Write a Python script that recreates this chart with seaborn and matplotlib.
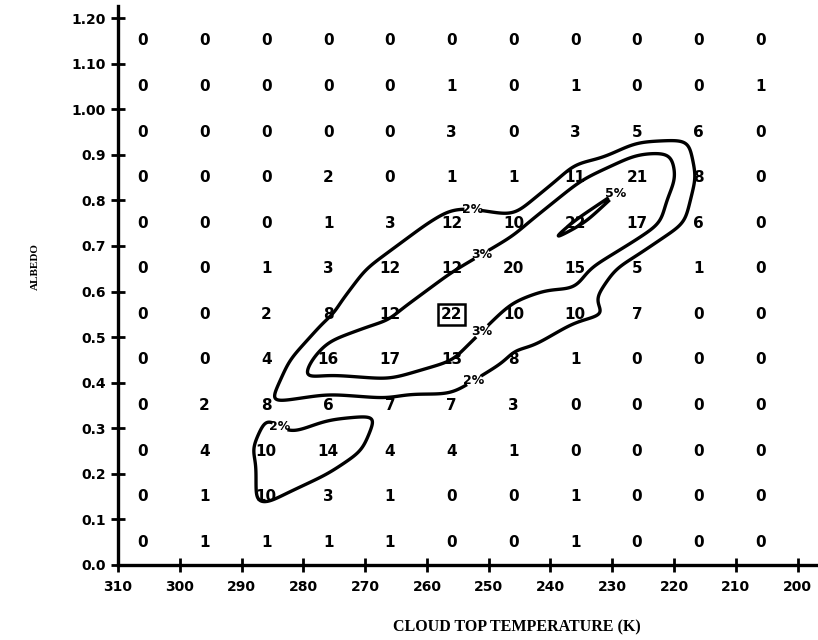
"""
Albedo vs cloud top temperature frequency table with percent contours.
"""

import matplotlib

matplotlib.use("Agg")
import matplotlib.pyplot as plt
import matplotlib.tri as mtri
import numpy as np
import seaborn as sns
from matplotlib.contour import ContourSet
from matplotlib.path import Path

# bin centres of the table
temperatures = [305, 295, 285, 275, 265, 255, 245, 235, 225, 215, 205]
albedos = [0.05, 0.15, 0.25, 0.35, 0.45, 0.55, 0.65, 0.75, 0.85, 0.95, 1.05, 1.15]

# counts per albedo row (bottom to top), columns follow `temperatures`
row_005 = [0, 1, 1, 1, 1, 0, 0, 1, 0, 0, 0]
row_015 = [0, 1, 10, 3, 1, 0, 0, 1, 0, 0, 0]
row_025 = [0, 4, 10, 14, 4, 4, 1, 0, 0, 0, 0]
row_035 = [0, 2, 8, 6, 7, 7, 3, 0, 0, 0, 0]
row_045 = [0, 0, 4, 16, 17, 13, 8, 1, 0, 0, 0]
row_055 = [0, 0, 2, 8, 12, 22, 10, 10, 7, 0, 0]
row_065 = [0, 0, 1, 3, 12, 12, 20, 15, 5, 1, 0]
row_075 = [0, 0, 0, 1, 3, 12, 10, 22, 17, 6, 0]
row_085 = [0, 0, 0, 2, 0, 1, 1, 11, 21, 8, 0]
row_095 = [0, 0, 0, 0, 0, 3, 0, 3, 5, 6, 0]
row_105 = [0, 0, 0, 0, 0, 1, 0, 1, 0, 0, 1]
row_115 = [0, 0, 0, 0, 0, 0, 0, 0, 0, 0, 0]

x_ticks = [310, 300, 290, 280, 270, 260, 250, 240, 230, 220, 210, 200]
y_ticks = [0.0, 0.1, 0.2, 0.3, 0.4, 0.5, 0.6, 0.7, 0.8, 0.9, 1.0, 1.1, 1.2]
y_tick_labels = ["0.0", "0.1", "0.2", "0.3", "0.4", "0.5", "0.6", "0.7",
                 "0.8", "0.9", "1.00", "1.10", "1.20"]
contour_levels = [2, 3, 5]
boxed_cell = (255, 0.55)

counts = np.array([row_005, row_015, row_025, row_035, row_045, row_055,
                   row_065, row_075, row_085, row_095, row_105, row_115], float)
percent = counts / counts.sum() * 100

# layout: the typed numbers sit ~1 K left of the bin centre on the original
column_offset = 1.0
# where the contour labels go (data coords)
label_spots = [(252.5, 0.80), (251.5, 0.385), (250.5, 0.665), (249.5, 0.49),
               (227.5, 0.80), (283.0, 0.325)]


def diagonal_triangulation(n_rows, n_cols):
    """Grid triangles split along the lower-left/upper-right diagonal."""
    ci, ri = np.meshgrid(np.arange(n_cols), np.arange(n_rows))
    tris = []
    for r in range(n_rows - 1):
        for c in range(n_cols - 1):
            p = r * n_cols + c
            tris.append([p, p + 1, p + n_cols + 1])
            tris.append([p, p + n_cols + 1, p + n_cols])
    return mtri.Triangulation(ci.ravel(), ri.ravel(), np.array(tris))


def split_path(path):
    """Compound contour path -> list of (N, 2) polylines (closed ones repeat the start)."""
    verts = path.vertices
    codes = path.codes if path.codes is not None else np.full(len(verts), Path.LINETO)
    starts = list(np.flatnonzero(codes == Path.MOVETO)) or [0]
    pieces = []
    for a, b in zip(starts, starts[1:] + [len(verts)]):
        seg = verts[a:b].copy()
        if codes[b - 1] == Path.CLOSEPOLY:
            seg[-1] = seg[0]
        if len(seg) > 2:
            pieces.append(seg)
    return pieces


def smooth_path(p, sigma=0.18, spacing=0.01):
    """Resample a polyline evenly and run a gaussian along it (hand-drawn look)."""
    closed = np.allclose(p[0], p[-1])
    s = np.concatenate([[0], np.cumsum(np.hypot(*np.diff(p, axis=0).T))])
    n = max(int(s[-1] / spacing), 16)
    su = np.linspace(0, s[-1], n, endpoint=not closed)
    q = np.column_stack([np.interp(su, s, p[:, 0]), np.interp(su, s, p[:, 1])])
    ds = s[-1] / n
    half = min(int(3 * sigma / ds), n - 1)
    k = np.exp(-0.5 * (np.arange(-half, half + 1) * ds / sigma) ** 2)
    k /= k.sum()
    if closed:
        qp = np.concatenate([q[-half:], q, q[:half]]) if half else q
    else:
        qp = np.concatenate([np.repeat(q[:1], half, 0), q, np.repeat(q[-1:], half, 0)])
    out = np.column_stack([np.convolve(qp[:, i], k, mode="valid") for i in range(2)])
    return np.vstack([out, out[:1]]) if closed else out


def contour_segments(pct, levels, min_size=1.0):
    tri = diagonal_triangulation(*pct.shape)
    tmp_fig, tmp_ax = plt.subplots()
    raw = tmp_ax.tricontour(tri, pct.ravel(), levels=levels)
    paths = raw.get_paths()
    plt.close(tmp_fig)

    t0, dt = temperatures[0] + column_offset, temperatures[1] - temperatures[0]
    a0, da = albedos[0], albedos[1] - albedos[0]
    allsegs = []
    for path in paths:
        segs = []
        for line in split_path(path):
            extent = line.max(axis=0) - line.min(axis=0)
            if extent.max() < min_size:  # drop specks smaller than one bin
                continue
            sm = smooth_path(line)
            segs.append(np.column_stack([t0 + dt * sm[:, 0], a0 + da * sm[:, 1]]))
        allsegs.append(segs)
    return allsegs


sns.set_style("ticks")
plt.rcParams["font.family"] = ["DejaVu Sans"]
plt.rcParams["text.color"] = "black"

allsegs = contour_segments(percent, contour_levels)

fig = plt.figure(figsize=(8.18, 6.4), dpi=100)
ax = fig.add_axes([0.1443, 0.1172, 0.8557, 0.8734])

cs = ContourSet(ax, contour_levels, allsegs, colors="black", linewidths=2.4)
labels = ax.clabel(cs, fmt=lambda v: f"{v:.0f}%", fontsize=9, inline=True,
                   inline_spacing=3, manual=label_spots)
for lbl in labels:
    lbl.set_fontweight("bold")
    lbl.set_rotation(0)

# cell counts
for i, a in enumerate(albedos):
    for j, t in enumerate(temperatures):
        box = None
        if (t, a) == boxed_cell:
            box = dict(boxstyle="square,pad=0.2", fc="white", ec="black", lw=1.8)
        ax.text(t + column_offset, a, f"{int(counts[i, j])}", ha="center", va="center",
                fontsize=11, fontweight="bold", color="black", bbox=box, zorder=3)

ax.set_xlim(310, 196.7)
ax.set_ylim(0, 1.2265)
ax.set_xticks(x_ticks)
ax.set_yticks(y_ticks)
ax.set_yticklabels(y_tick_labels)
for lbl in ax.get_xticklabels() + ax.get_yticklabels():
    lbl.set_fontweight("bold")
ax.tick_params(axis="both", direction="inout", length=10, width=2, labelsize=10,
               color="black", labelcolor="black")
ax.tick_params(axis="x", pad=6)
ax.tick_params(axis="y", pad=4)
sns.despine(ax=ax)
for side in ("left", "bottom"):
    ax.spines[side].set_linewidth(2.4)
    ax.spines[side].set_color("black")

fig.text(0.043, 0.583, "ALBEDO", rotation=90, ha="center", va="center",
         fontsize=8, fontweight="bold", family=["Liberation Serif"])
fig.text(0.632, 0.019, "CLOUD TOP TEMPERATURE (K)", ha="center", va="center",
         fontsize=11.5, fontweight="bold", family=["Liberation Serif"])

fig.savefig("out.png", dpi=100)
plt.close(fig)
